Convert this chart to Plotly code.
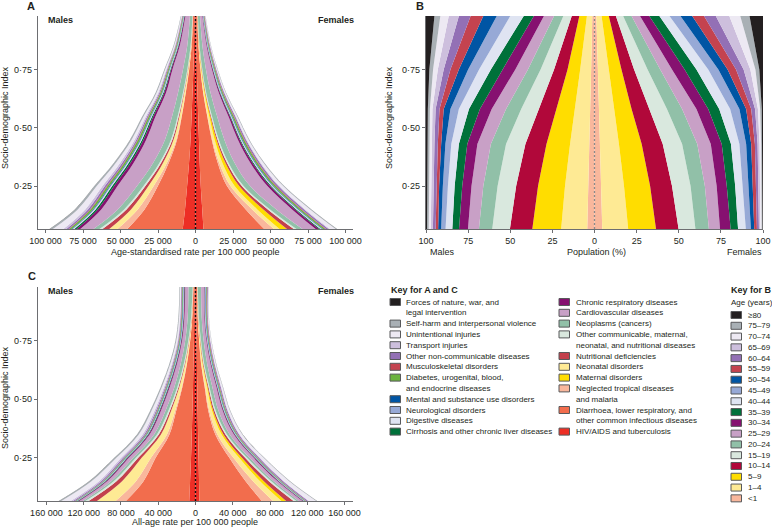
import plotly.graph_objects as go

W, H = 772, 528
FONT = "Liberation Sans, Arial, sans-serif"
TXT = "#231f20"
AX = "#6d6e71"

# ---------------- data ----------------
SDI = [0.066, 0.15, 0.25, 0.35, 0.45, 0.55, 0.65, 0.75, 0.85, 0.979]
SDI_B = [0.066, 0.25, 0.43, 0.58, 0.75, 0.979]

# legend / stacking order (centre outwards)
CAUSES = ["HIV/AIDS and tuberculosis",
          "Diarrhoea, lower respiratory, and other common infectious diseases",
          "Neglected tropical diseases and malaria", "Neonatal disorders", "Maternal disorders",
          "Nutritional deficiencies",
          "Other communicable, maternal, neonatal, and nutritional diseases",
          "Neoplasms (cancers)", "Cardiovascular diseases", "Chronic respiratory diseases",
          "Cirrhosis and other chronic liver diseases", "Digestive diseases",
          "Neurological disorders", "Mental and substance use disorders",
          "Diabetes, urogenital, blood, and endocrine diseases", "Musculoskeletal disorders",
          "Other non-communicable diseases", "Transport injuries", "Unintentional injuries",
          "Self-harm and interpersonal violence", "Forces of nature, war, and legal intervention"]
CAUSE_COLORS = ["#ed2e25", "#f26d4d", "#f9b79c", "#feea94", "#ffdd00", "#c3404c", "#d9e8de",
                "#91c0a8", "#c8a0c6", "#861170", "#00713a", "#dfe4f2", "#97a9d6", "#0055a4",
                "#6cb33f", "#c4434f", "#9370b5", "#cdbfdd", "#ede9f3", "#a9b0b5", "#231f20"]

# Panel A: age-standardised rate per 100 000, males
A_M_HIV = [8500, 7000, 5600, 4300, 3300, 2600, 2000, 1400, 1000, 700]
A_M_DIARR = [37000, 27000, 19500, 13500, 9000, 6500, 4500, 2800, 1600, 900]
A_M_NTD = [6500, 4500, 2800, 1200, 500, 250, 150, 100, 60, 40]
A_M_NEONATAL = [5500, 4500, 3500, 2600, 1800, 1300, 900, 600, 300, 150]
A_M_MATERNAL = [0, 0, 0, 0, 0, 0, 0, 0, 0, 0]
A_M_NUTR = [4500, 3000, 2000, 1300, 800, 500, 300, 200, 120, 80]
A_M_OTHERCOM = [2000, 1600, 1300, 1100, 900, 700, 500, 350, 250, 150]
A_M_NEOPL = [4000, 4200, 4300, 4200, 4000, 3700, 3300, 2900, 2200, 1700]
A_M_CARDIO = [8800, 11000, 13000, 13000, 12500, 11000, 8000, 7000, 5000, 3000]
A_M_RESP = [2500, 2400, 2300, 2100, 1800, 1500, 1200, 900, 700, 500]
A_M_CIRRH = [1500, 1400, 1300, 1200, 1000, 800, 600, 450, 350, 250]
A_M_DIGEST = [800, 700, 650, 600, 500, 400, 350, 300, 250, 200]
A_M_NEURO = [600, 600, 600, 550, 500, 450, 400, 350, 300, 250]
A_M_MENTAL = [500, 500, 500, 450, 400, 350, 300, 250, 200, 150]
A_M_DIAB = [1500, 1500, 1400, 1300, 1200, 1000, 800, 650, 500, 350]
A_M_MSK = [400, 400, 400, 350, 300, 280, 250, 220, 200, 180]
A_M_OTHERNCD = [1500, 1400, 1300, 1100, 900, 750, 600, 500, 400, 300]
A_M_TRANSPORT = [2000, 1800, 1600, 1400, 1100, 900, 700, 500, 350, 250]
A_M_UNINT = [7000, 5000, 3800, 2800, 2000, 1500, 1100, 800, 550, 350]
A_M_SELFHARM = [2000, 1800, 1500, 1200, 1000, 800, 650, 500, 400, 300]
A_M_FORCES = [200, 150, 100, 80, 60, 40, 30, 20, 15, 10]

# Panel A: females
A_F_HIV = [5300, 4500, 3500, 2800, 2300, 1800, 1300, 900, 600, 400]
A_F_DIARR = [40500, 29000, 17500, 12000, 8500, 6000, 3800, 2400, 1400, 800]
A_F_NTD = [6500, 4300, 2300, 1000, 400, 200, 120, 80, 50, 30]
A_F_NEONATAL = [3700, 3400, 2800, 2100, 1500, 1100, 700, 450, 250, 120]
A_F_MATERNAL = [5000, 4000, 3000, 2000, 1300, 800, 450, 250, 120, 60]
A_F_NUTR = [4500, 3000, 1800, 1100, 700, 450, 300, 200, 120, 80]
A_F_OTHERCOM = [1800, 1500, 1200, 1000, 800, 600, 450, 300, 200, 130]
A_F_NEOPL = [4000, 4200, 4300, 4000, 3700, 3400, 2900, 2400, 1900, 1400]
A_F_CARDIO = [8800, 10500, 11500, 10500, 9000, 7500, 5500, 4000, 2800, 1600]
A_F_RESP = [2200, 2000, 1800, 1500, 1200, 1000, 750, 550, 400, 250]
A_F_CIRRH = [1000, 900, 800, 700, 550, 450, 330, 250, 180, 120]
A_F_DIGEST = [700, 650, 600, 500, 420, 350, 280, 230, 180, 140]
A_F_NEURO = [600, 600, 600, 550, 500, 450, 400, 350, 300, 250]
A_F_MENTAL = [500, 500, 500, 450, 400, 350, 300, 250, 200, 150]
A_F_DIAB = [1500, 1400, 1300, 1200, 1050, 900, 700, 550, 420, 300]
A_F_MSK = [500, 500, 450, 400, 350, 320, 280, 250, 220, 180]
A_F_OTHERNCD = [1600, 1500, 1300, 1100, 900, 750, 600, 480, 380, 280]
A_F_TRANSPORT = [900, 800, 700, 600, 480, 380, 290, 210, 140, 90]
A_F_UNINT = [3800, 3200, 2500, 1800, 1300, 950, 700, 500, 350, 220]
A_F_SELFHARM = [900, 800, 650, 550, 450, 380, 300, 240, 180, 120]
A_F_FORCES = [100, 80, 60, 40, 30, 20, 15, 10, 8, 5]

# Panel C: all-age rate per 100 000, males
C_M_HIV = [6700, 5800, 4800, 4000, 3300, 2700, 2200, 1700, 1300, 900]
C_M_DIARR = [68000, 50000, 38000, 24000, 17500, 11500, 7000, 4000, 2200, 1400]
C_M_NTD = [11000, 8000, 5000, 2600, 1200, 600, 300, 150, 80, 50]
C_M_NEONATAL = [20000, 15000, 10000, 6500, 4200, 2700, 1600, 900, 500, 300]
C_M_MATERNAL = [0, 0, 0, 0, 0, 0, 0, 0, 0, 0]
C_M_NUTR = [9000, 6000, 3700, 2300, 1400, 900, 600, 400, 250, 150]
C_M_OTHERCOM = [3500, 3000, 2500, 2000, 1600, 1200, 900, 650, 450, 300]
C_M_NEOPL = [2500, 2700, 2900, 3000, 3100, 3200, 3300, 3300, 3600, 4500]
C_M_CARDIO = [4000, 4300, 4600, 4800, 4900, 5000, 4000, 3300, 3500, 3500]
C_M_RESP = [1300, 1300, 1300, 1200, 1100, 1000, 900, 800, 800, 800]
C_M_CIRRH = [800, 800, 800, 750, 700, 650, 550, 450, 400, 350]
C_M_DIGEST = [500, 500, 500, 450, 400, 380, 350, 330, 330, 330]
C_M_NEURO = [400, 400, 400, 400, 400, 400, 400, 400, 500, 600]
C_M_MENTAL = [500, 500, 500, 500, 500, 500, 500, 500, 500, 500]
C_M_DIAB = [900, 900, 900, 850, 800, 750, 700, 650, 650, 650]
C_M_MSK = [300, 300, 300, 300, 300, 300, 300, 300, 350, 400]
C_M_OTHERNCD = [2000, 1800, 1600, 1400, 1200, 1000, 850, 750, 700, 650]
C_M_TRANSPORT = [2500, 2300, 2100, 1800, 1500, 1200, 950, 750, 550, 400]
C_M_UNINT = [10000, 8000, 5000, 4000, 3200, 2300, 1700, 1300, 1000, 800]
C_M_SELFHARM = [2500, 2300, 2000, 1700, 1400, 1200, 1000, 850, 700, 600]
C_M_FORCES = [300, 250, 200, 150, 100, 80, 60, 40, 30, 20]

# Panel C: females
C_F_HIV = [4200, 3800, 3300, 2800, 2300, 1900, 1500, 1100, 800, 500]
C_F_DIARR = [67000, 50000, 33000, 18500, 11500, 8000, 4500, 2800, 1600, 1200]
C_F_NTD = [12000, 8000, 4500, 2200, 1000, 500, 250, 120, 70, 40]
C_F_NEONATAL = [9000, 7500, 6000, 4500, 3000, 2000, 1300, 750, 400, 250]
C_F_MATERNAL = [5000, 4000, 3000, 2000, 1300, 800, 450, 250, 120, 60]
C_F_NUTR = [8000, 5500, 3500, 2200, 1400, 900, 600, 400, 250, 150]
C_F_OTHERCOM = [3000, 2500, 2000, 1600, 1300, 1000, 750, 550, 400, 300]
C_F_NEOPL = [2500, 2600, 2800, 2900, 3000, 3100, 3200, 2800, 3000, 3500]
C_F_CARDIO = [4000, 4200, 4400, 4500, 4500, 4400, 3600, 3000, 2800, 3300]
C_F_RESP = [1100, 1100, 1100, 1000, 900, 800, 700, 600, 550, 600]
C_F_CIRRH = [500, 500, 500, 480, 450, 400, 330, 270, 230, 200]
C_F_DIGEST = [450, 450, 450, 420, 400, 380, 350, 320, 320, 330]
C_F_NEURO = [400, 400, 420, 440, 460, 480, 500, 520, 600, 700]
C_F_MENTAL = [500, 500, 500, 500, 500, 500, 500, 500, 500, 500]
C_F_DIAB = [900, 900, 900, 850, 800, 750, 700, 650, 650, 650]
C_F_MSK = [400, 400, 400, 400, 400, 400, 420, 450, 480, 520]
C_F_OTHERNCD = [2000, 1800, 1600, 1400, 1200, 1000, 850, 750, 600, 700]
C_F_TRANSPORT = [1000, 900, 800, 700, 600, 480, 380, 290, 200, 140]
C_F_UNINT = [7500, 5500, 4000, 2800, 2000, 1500, 1100, 800, 600, 500]
C_F_SELFHARM = [900, 800, 700, 600, 500, 420, 350, 300, 250, 220]
C_F_FORCES = [150, 120, 100, 80, 50, 40, 30, 20, 15, 10]

# Panel B: cumulative population share (%) from centre outward, outer edge of each age group
AGES = ["<1", "1–4", "5–9", "10–14", "15–19", "20–24", "25–29", "30–34", "35–39",
        "40–44", "45–49", "50–54", "55–59", "60–64", "65–69", "70–74", "75–79", "≥80"]
AGE_COLORS = ["#f9b79c", "#feea94", "#ffdd00", "#b1083a", "#d9e8de", "#91c0a8", "#c8a0c6",
              "#861170", "#00713a", "#dfe4f2", "#97a9d6", "#0055a4", "#c4434f", "#9370b5",
              "#cdbfdd", "#ede9f3", "#a9b0b5", "#231f20"]

B_M_LT1 = [4.3, 3.8, 3.2, 2.6, 2.0, 1.3]
B_M_1_4 = [19.8, 17.5, 14.5, 11.5, 8.5, 4.5]
B_M_5_9 = [36.9, 33.5, 28.5, 22.5, 16, 9]
B_M_10_14 = [50.2, 46.5, 41, 33, 24, 13.5]
B_M_15_19 = [60.7, 57.5, 52.5, 43.5, 32, 18.5]
B_M_20_24 = [68.6, 66, 61.5, 52.5, 39.5, 24]
B_M_25_29 = [75.1, 73, 69.5, 61, 47, 30]
B_M_30_34 = [80.4, 78.5, 75.5, 68, 54.5, 36]
B_M_35_39 = [84.4, 83, 80.5, 74.5, 61.5, 42]
B_M_40_44 = [88.4, 87, 85, 80.5, 68.5, 50]
B_M_45_49 = [91, 90, 88.5, 85.5, 75, 58]
B_M_50_54 = [92.8, 92.2, 91, 89.5, 80.5, 66]
B_M_55_59 = [94.3, 93.8, 93, 92, 85.5, 73.5]
B_M_60_64 = [95.9, 95.5, 95, 94.3, 89.5, 80.5]
B_M_65_69 = [97.2, 97, 96.7, 96.2, 93, 86.5]
B_M_70_74 = [98.4, 98.2, 98, 97.7, 95.8, 91.5]
B_M_75_79 = [99.4, 99.3, 99.1, 98.9, 98, 95]
B_M_80 = [100, 100, 100, 100, 100, 100]

B_F_LT1 = [4.6, 4.0, 3.3, 2.6, 2.0, 1.1]
B_F_1_4 = [20, 17.5, 14.5, 11.5, 8.5, 4.2]
B_F_5_9 = [36.5, 33, 28, 22, 16, 8.5]
B_F_10_14 = [49.9, 46, 40.5, 32.5, 23.5, 12.7]
B_F_15_19 = [59.9, 57, 52, 43, 31.5, 17]
B_F_20_24 = [67.9, 65.5, 61, 52, 39, 22]
B_F_25_29 = [74.5, 72.5, 69, 60.5, 46, 27]
B_F_30_34 = [80.8, 78.5, 75.5, 67.5, 53.5, 32.5]
B_F_35_39 = [85.2, 83.5, 81, 74, 60.5, 38.5]
B_F_40_44 = [89.8, 88, 86, 80.5, 67.5, 44.5]
B_F_45_49 = [92.8, 91.5, 90, 86, 73.5, 51]
B_F_50_54 = [94.8, 94, 93, 90, 79, 58]
B_F_55_59 = [96.4, 95.8, 95.2, 93, 84, 65]
B_F_60_64 = [97.6, 97.2, 96.8, 95.3, 88.5, 72]
B_F_65_69 = [98.4, 98.2, 98, 97, 92.5, 80]
B_F_70_74 = [99.2, 99.1, 98.9, 98.3, 95.5, 86.5]
B_F_75_79 = [99.7, 99.7, 99.6, 99.3, 97.8, 92]
B_F_80 = [100, 100, 100, 100, 100, 100]

A_RATE_TICKS = [-100000, -75000, -50000, -25000, 0, 25000, 50000, 75000, 100000]
A_RATE_LABELS = ["100 000", "75 000", "50 000", "25 000", "0", "25 000", "50 000", "75 000", "100 000"]
C_RATE_TICKS = [-160000, -120000, -80000, -40000, 0, 40000, 80000, 120000, 160000]
C_RATE_LABELS = ["160 000", "120 000", "80 000", "40 000", "0", "40 000", "80 000", "120 000", "160 000"]
B_TICKS = [-100, -75, -50, -25, 0, 25, 50, 75, 100]
B_LABELS = ["100", "75", "50", "25", "0", "25", "50", "75", "100"]
SDI_TICKS = [0.25, 0.50, 0.75]
SDI_LABELS = ["0·25", "0·50", "0·75"]

# ---------------- build ----------------
def series(prefix):
    g = globals()
    keys = ["HIV", "DIARR", "NTD", "NEONATAL", "MATERNAL", "NUTR", "OTHERCOM", "NEOPL", "CARDIO",
            "RESP", "CIRRH", "DIGEST", "NEURO", "MENTAL", "DIAB", "MSK", "OTHERNCD", "TRANSPORT",
            "UNINT", "SELFHARM", "FORCES"]
    return [g[prefix + k] for k in keys]

AGE_KEYS = ["LT1", "1_4", "5_9", "10_14", "15_19", "20_24", "25_29", "30_34", "35_39", "40_44",
            "45_49", "50_54", "55_59", "60_64", "65_69", "70_74", "75_79", "80"]

fig = go.Figure()

def add_stack(prefix, sign, xa, ya, group):
    for name, col, vals in zip(CAUSES, CAUSE_COLORS, series(prefix)):
        fig.add_trace(go.Scatter(
            x=[sign * v for v in vals], y=SDI, xaxis=xa, yaxis=ya,
            stackgroup=group, orientation="h", mode="lines",
            line=dict(width=0, shape="spline", smoothing=1.0), fillcolor=col,
            name=name, showlegend=False, hoverinfo="skip"))

add_stack("A_M_", -1, "x", "y", "am")
add_stack("A_F_", 1, "x", "y", "af")
add_stack("C_M_", -1, "x3", "y3", "cm")
add_stack("C_F_", 1, "x3", "y3", "cf")

g = globals()
for sex, sign in (("M", -1), ("F", 1)):
    fig.add_trace(go.Scatter(x=[0] * len(SDI_B), y=SDI_B, xaxis="x2", yaxis="y2", mode="lines",
                             line=dict(width=0), showlegend=False, hoverinfo="skip"))
    for key, col in zip(AGE_KEYS, AGE_COLORS):
        vals = g["B_%s_%s" % (sex, key)]
        fig.add_trace(go.Scatter(x=[sign * v for v in vals], y=SDI_B, xaxis="x2", yaxis="y2",
                                 mode="lines", fill="tonextx", fillcolor=col,
                                 line=dict(width=0), showlegend=False, hoverinfo="skip"))

def px(x):
    return x / W

def py(y):
    return 1 - y / H

common = dict(showgrid=False, zeroline=False, showline=True, linecolor=AX, linewidth=1.2,
              ticks="outside", ticklen=3, tickcolor=AX, tickwidth=1, tickangle=0,
              automargin=False,
              tickfont=dict(family=FONT, size=9, color=TXT), fixedrange=True)

fig.update_layout(
    template="none",
    width=W, height=H, margin=dict(l=0, r=0, t=0, b=0, pad=0), autosize=False,
    paper_bgcolor="white", plot_bgcolor="white", showlegend=False,
    font=dict(family=FONT, size=9, color=TXT),
    xaxis=dict(common, domain=[px(38), px(353)], range=[-105000, 105000],
               tickvals=A_RATE_TICKS, ticktext=A_RATE_LABELS, anchor="y"),
    yaxis=dict(common, domain=[py(229), py(16)], range=[0.066, 0.979],
               tickvals=SDI_TICKS, ticktext=SDI_LABELS, anchor="x"),
    xaxis2=dict(common, domain=[px(426), px(763)], range=[-100, 100],
                tickvals=B_TICKS, ticktext=B_LABELS, anchor="y2"),
    yaxis2=dict(common, domain=[py(229), py(16)], range=[0.066, 0.979],
                tickvals=SDI_TICKS, ticktext=SDI_LABELS, anchor="x2"),
    xaxis3=dict(common, domain=[px(38), px(353)], range=[-169000, 169000],
                tickvals=C_RATE_TICKS, ticktext=C_RATE_LABELS, anchor="y3"),
    yaxis3=dict(common, domain=[py(501), py(287)], range=[0.066, 0.979],
                tickvals=SDI_TICKS, ticktext=SDI_LABELS, anchor="x3"),
)

shapes = []
# centre dotted lines
shapes.append(dict(type="line", xref="x", yref="y", x0=0, x1=0, y0=0.066, y1=0.979,
                   line=dict(color="#111111", width=1.4, dash="2px,2px")))
shapes.append(dict(type="line", xref="x3", yref="y3", x0=0, x1=0, y0=0.066, y1=0.979,
                   line=dict(color="#111111", width=1.4, dash="2px,2px")))
shapes.append(dict(type="line", xref="x2", yref="y2", x0=0, x1=0, y0=0.066, y1=0.979,
                   line=dict(color="#8a8a8a", width=1.3, dash="2px,2px")))

ann = []

def text(x, y, s, size=9, bold=False, anchor="left", angle=0, color=TXT):
    ann.append(dict(xref="paper", yref="paper", x=px(x), y=py(y), text=("<b>%s</b>" % s) if bold else s,
                    showarrow=False, xanchor=anchor, yanchor="middle", textangle=angle,
                    font=dict(family=FONT, size=size, color=color)))

text(25, 6, "A", 11, True)
text(414, 6, "B", 11, True)
text(26, 276, "C", 11, True)
text(46, 20, "Males", 9, True)
text(356, 20, "Females", 9, True, "right")
text(46, 291, "Males", 9, True)
text(356, 291, "Females", 9, True, "right")
text(195, 252, "Age-standardised rate per 100 000 people", 9, False, "center")
text(195, 522, "All-age rate per 100 000 people", 9, False, "center")
text(428, 252, "Males", 9, False, "left")
text(596, 252, "Population (%)", 9, False, "center")
text(764, 252, "Females", 9, False, "right")
text(5, 118, "Socio-demographic Index", 9, False, "center", -90)
text(5, 398, "Socio-demographic Index", 9, False, "center", -90)
text(389, 118, "Socio-demographic Index", 9, False, "center", -90)

# Legend: Key for A and C
def swatch(x, y, col):
    shapes.append(dict(type="rect", xref="paper", yref="paper", x0=px(x), x1=px(x + 10.5),
                       y0=py(y + 3.5), y1=py(y - 3.5), fillcolor=col,
                       line=dict(color="#58595b", width=1)))

text(389, 290, "Key for A and C", 9, True)
ROW = 10.8
col1 = [("Forces of nature, war, and", "legal intervention"),
        ("Self-harm and interpersonal violence",), ("Unintentional injuries",),
        ("Transport injuries",), ("Other non-communicable diseases",),
        ("Musculoskeletal disorders",), ("Diabetes, urogenital, blood,", "and endocrine diseases"),
        ("Mental and substance use disorders",), ("Neurological disorders",),
        ("Digestive diseases",), ("Cirrhosis and other chronic liver diseases",)]
col2 = [("Chronic respiratory diseases",), ("Cardiovascular diseases",), ("Neoplasms (cancers)",),
        ("Other communicable, maternal,", "neonatal, and nutritional diseases"),
        ("Nutritional deficiencies",), ("Neonatal disorders",), ("Maternal disorders",),
        ("Neglected tropical diseases", "and malaria"),
        ("Diarrhoea, lower respiratory, and", "other common infectious diseases"),
        ("HIV/AIDS and tuberculosis",)]
col1_colors = [CAUSE_COLORS[i] for i in (20, 19, 18, 17, 16, 15, 14, 13, 12, 11, 10)]
col2_colors = [CAUSE_COLORS[i] for i in (9, 8, 7, 6, 5, 3, 4, 2, 1, 0)]
for (items, colors, sx, tx) in ((col1, col1_colors, 390, 404), (col2, col2_colors, 559, 574)):
    y = 302
    for lines, c in zip(items, colors):
        swatch(sx, y, c)
        for ln in lines:
            text(tx, y, ln, 8)
            y += ROW

# Key for B
text(729, 290, "Key for B", 9, True)
text(729, 302, "Age (years)", 8)
y = 315
for lab, c in zip(AGES[::-1], AGE_COLORS[::-1]):
    swatch(731, y, c)
    text(746, y, lab, 8)
    y += 10.785

fig.update_layout(shapes=shapes, annotations=ann)
fig.write_html("out.html", config={"responsive": False, "displayModeBar": False},
               post_script="document.body.style.margin='0px';document.body.style.overflow='hidden';")
